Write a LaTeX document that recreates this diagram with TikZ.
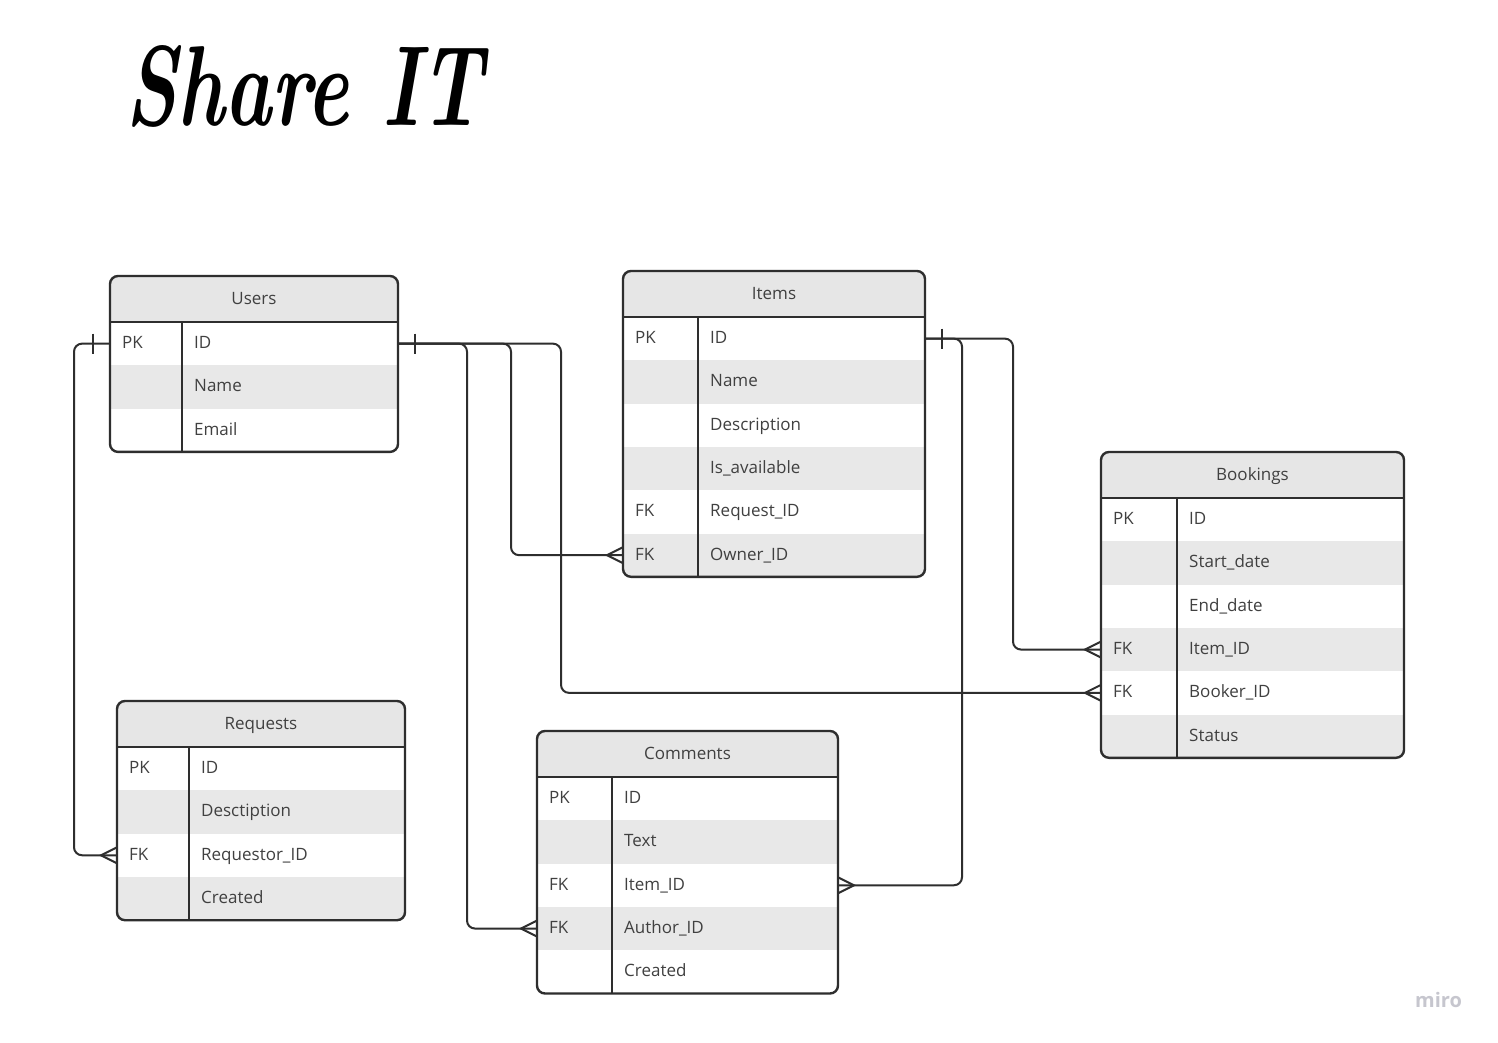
\documentclass[tikz,border=0pt]{standalone}
\usepackage{fontspec}
\setsansfont{Open Sans}
\usetikzlibrary{calc}
\definecolor{linec}{HTML}{2E2E2E}
\definecolor{rowg}{HTML}{E8E8E8}
\definecolor{headg}{HTML}{E6E6E6}
\definecolor{txtc}{HTML}{404040}
\definecolor{miroc}{HTML}{C6C6CE}
\tikzset{
  tblframe/.style={draw=linec, line width=2.4pt, rounded corners=8pt},
  tblline/.style={draw=linec, line width=2.4pt},
  rowbox/.style={inner sep=0pt, outer sep=0pt, minimum height=43.3pt, draw=none},
  celltxt/.style={anchor=base west, inner sep=0pt, text=txtc, font=\sffamily\fontsize{17}{20}\selectfont},
  headtxt/.style={anchor=base, inner sep=0pt, text=txtc, font=\sffamily\fontsize{17}{20}\selectfont},
  conn/.style={draw=linec, line width=2pt, rounded corners=8pt},
  tickmark/.style={draw=linec, line width=2pt},
}
\newcommand\ertable[8]{%
  \pgfmathsetmacro\hb{#3+46}%
  \pgfmathsetmacro\tb{\hb+43.3*#6}%
  \pgfmathsetmacro\tw{#4-#2}%
  \pgfmathsetmacro\tc{(#2+#4)/2}%
  \begin{scope}
    \clip[rounded corners=8pt] (#2,#3) rectangle (#4,\tb);
    \fill[white] (#2,#3) rectangle (#4,\tb);
    \fill[headg] (#2,#3) rectangle (#4,\hb);
    \foreach \k/\f/\c [count=\i] in {#8} {
      \pgfmathsetmacro\yc{\hb+43.3*(\i-0.5)}
      \node[rowbox, fill=\c, minimum width=\tw pt] (#1-r\i) at (\tc,\yc) {};
    }
  \end{scope}
  \foreach \k/\f/\c [count=\i] in {#8} {
    \pgfmathsetmacro\yc{\hb+43.3*(\i-0.5)+5}
    \node[celltxt] (#1-k\i) at ({#2+12},\yc) {\k};
    \node[celltxt] (#1-f\i) at ({#5+12},\yc) {\f};
  }
  \node[headtxt] (#1-title) at (\tc,{#3+28}) {#7};
  \draw[tblline] (#2,\hb) -- (#4,\hb);
  \draw[tblline] (#5,\hb) -- (#5,\tb);
  \draw[tblframe] (#2,#3) rectangle (#4,\tb);
}
\newcommand\crowW[1]{%
  \draw[tickmark] ($(#1)+(0,-8)$) -- ($(#1)+(-16,0)$) -- ($(#1)+(0,8)$);}
\newcommand\crowE[1]{%
  \draw[tickmark] ($(#1)+(0,-8)$) -- ($(#1)+(16,0)$) -- ($(#1)+(0,8)$);}
\newcommand\barW[1]{%
  \draw[tickmark] ($(#1)+(-17,-10)$) -- ($(#1)+(-17,10)$);}
\newcommand\barE[1]{%
  \draw[tickmark] ($(#1)+(17,-10)$) -- ($(#1)+(17,10)$);}
\begin{document}
\begin{tikzpicture}[x=1pt,y=-1pt]
\useasboundingbox (0,0) rectangle (1498,1042);
\fill[white] (0,0) rectangle (1498,1042);

\node[anchor=base west, inner sep=0pt] (title) at (125,125)
  {\resizebox{358pt}{80pt}{\fontsize{100}{100}\selectfont\bfseries\itshape Share IT}};

\ertable{users}{110}{276}{398}{182}{3}{Users}{PK/ID/white, /Name/rowg, /Email/white}
\ertable{items}{623}{271}{925}{698}{6}{Items}{PK/ID/white, /Name/rowg, /Description/white, /Is\_available/rowg, FK/Request\_ID/white, FK/Owner\_ID/rowg}
\ertable{bookings}{1101}{452}{1404}{1177}{6}{Bookings}{PK/ID/white, /Start\_date/rowg, /End\_date/white, FK/Item\_ID/rowg, FK/Booker\_ID/white, /Status/rowg}
\ertable{requests}{117}{701}{405}{189}{4}{Requests}{PK/ID/white, /Desctiption/rowg, FK/Requestor\_ID/white, /Created/rowg}
\ertable{comments}{537}{731}{838}{612}{5}{Comments}{PK/ID/white, /Text/rowg, FK/Item\_ID/white, FK/Author\_ID/rowg, /Created/white}

% connectors
\draw[conn] (users-r1.west) -- ++(-36,0) |- (requests-r3.west);
\draw[conn] (users-r1.east) -- ++(69,0) |- (comments-r4.west);
\draw[conn] (users-r1.east) -- ++(113,0) |- (items-r6.west);
\draw[conn] (users-r1.east) -- ++(163,0) |- (bookings-r5.west);
\draw[conn] (items-r1.east) -- ++(88,0) |- (bookings-r4.west);
\draw[conn] (items-r1.east) -- ++(37,0) |- (comments-r3.east);

\barW{users-r1.west}
\barE{users-r1.east}
\barE{items-r1.east}
\crowW{requests-r3.west}
\crowW{comments-r4.west}
\crowW{items-r6.west}
\crowW{bookings-r5.west}
\crowW{bookings-r4.west}
\crowE{comments-r3.east}

\node[anchor=base west, inner sep=0pt, text=miroc, font=\sffamily\bfseries\fontsize{20}{22}\selectfont] (miro) at (1415,1007) {miro};
\end{tikzpicture}
\end{document}
